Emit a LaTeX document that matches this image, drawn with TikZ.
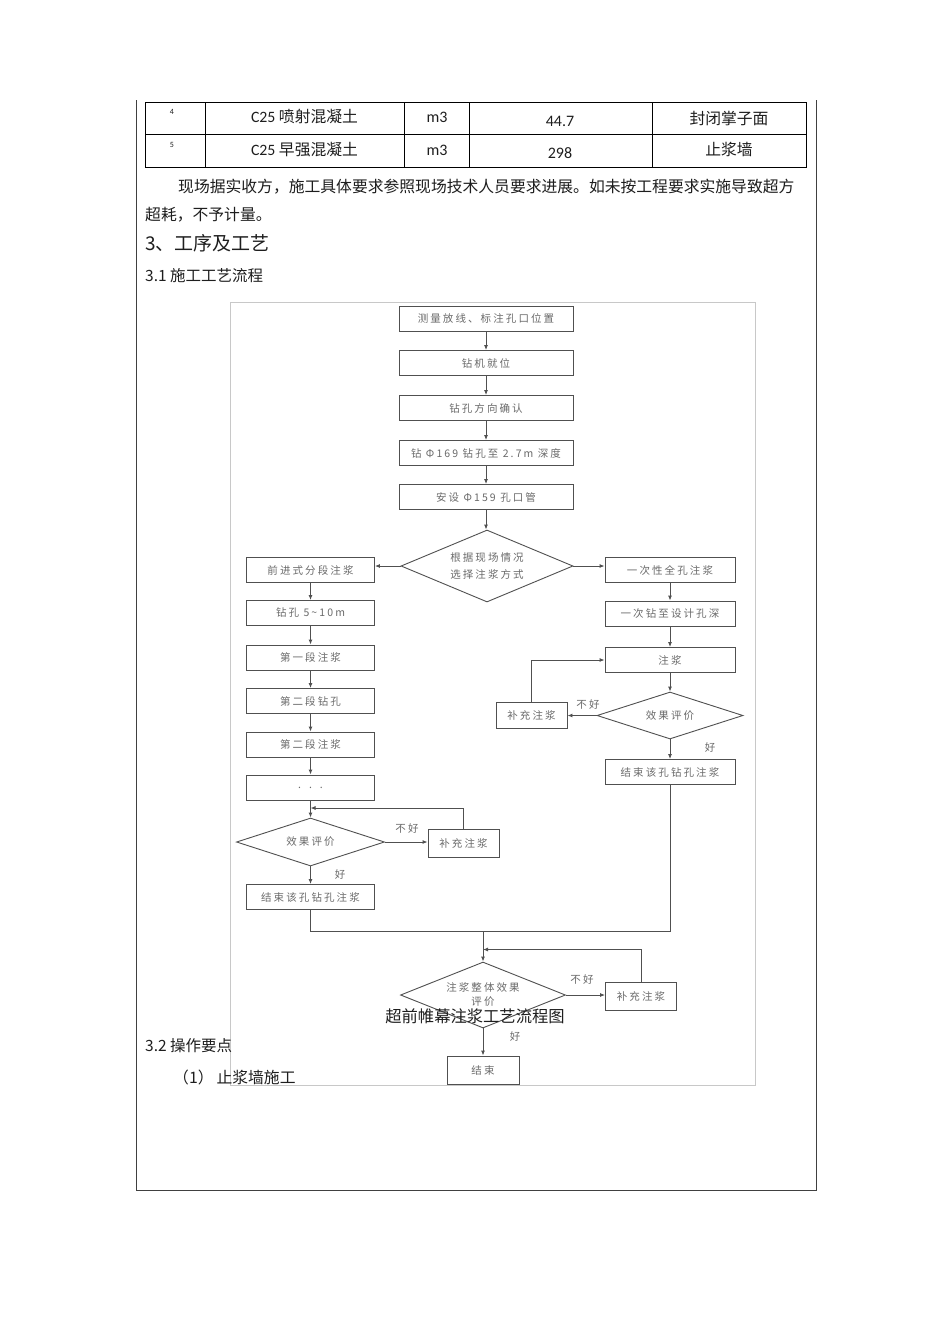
\documentclass[tikz,border=0pt]{standalone}
\usepackage{fontspec}
\usepackage{tikz}
\usetikzlibrary{shapes,shapes.geometric,arrows,arrows.meta,positioning}
\setmainfont{Noto Sans CJK SC}
\newfontfamily\latin{Carlito}
\newfontfamily\flujofont[LetterSpace=20]{Noto Sans CJK SC}
\newcommand{\flujo}{\flujofont\fontsize{10.5}{14}\selectfont}
\newcommand{\cuerpo}{\fontsize{15.8}{19}\selectfont}
\definecolor{lineagris}{HTML}{505050}
\definecolor{textogris}{HTML}{6A6A6A}
\definecolor{marcogris}{HTML}{C8C8C8}
\definecolor{tinta}{HTML}{1E1E1E}
\tikzstyle{proceso} = [draw=lineagris, line width=0.9pt, rectangle, minimum width=128pt, minimum height=25pt, inner sep=0pt, text=textogris, font=\flujo]
\tikzstyle{decision} = [draw=lineagris, line width=0.9pt, diamond, aspect=2.5, inner sep=0pt, text=textogris, font=\flujo, align=center]
\tikzstyle{etiqueta} = [text=textogris, font=\flujo, inner sep=0pt]
\tikzstyle{flecha} = [draw=lineagris, line width=0.9pt, -{Latex[length=5pt,width=4pt]}]
\tikzstyle{linea} = [draw=lineagris, line width=0.9pt]
\tikzstyle{tabla} = [draw=black, line width=1pt]
\tikzstyle{texto} = [text=tinta, font=\cuerpo, inner sep=0pt]
\begin{document}
\begin{tikzpicture}[x=1pt,y=-1pt]
					\useasboundingbox (0,0) rectangle (950,1344);
					\fill[white] (0,0) rectangle (950,1344);
					\draw[draw=black!75, line width=1pt] (136,100) -- (136,1190) -- (816,1190) -- (816,100);
					\draw[tabla] (145,102) rectangle (806,167);
					\draw[tabla] (145,134) -- (806,134);
					\foreach \x in {205,404,469,652} \draw[tabla] (\x,102) -- (\x,167);
					\node[texto, font=\latin\fontsize{8}{9}\selectfont] (n4) at (172,112) {4};
					\node[texto] (m4) at (304.5,117) {{\latin C25} 喷射混凝土};
					\node[texto, font=\latin\fontsize{16}{19}\selectfont] (u4) at (437,117) {m3};
					\node[texto, font=\latin\fontsize{16}{19}\selectfont] (c4) at (560,121) {44.7};
					\node[texto] (o4) at (729,119) {封闭掌子面};
					\node[texto, font=\latin\fontsize{8}{9}\selectfont] (n5) at (172,145) {5};
					\node[texto] (m5) at (304.5,150) {{\latin C25} 早强混凝土};
					\node[texto, font=\latin\fontsize{16}{19}\selectfont] (u5) at (437,150) {m3};
					\node[texto, font=\latin\fontsize{16}{19}\selectfont] (c5) at (560,153) {298};
					\node[texto] (o5) at (729,149) {止浆墙};
					\node[texto, anchor=west] (par1) at (178,187) {现场据实收方，施工具体要求参照现场技术人员要求进展。如未按工程要求实施导致超方};
					\node[texto, anchor=west] (par2) at (145,215) {超耗，不予计量。};
					\node[texto, anchor=west, font=\fontsize{19}{23}\selectfont] (tit3) at (145,243) {3、工序及工艺};
					\node[texto, anchor=west, font=\fontsize{15.5}{19}\selectfont] (tit31) at (145,276) {3.1 施工工艺流程};
					\draw[draw=marcogris, line width=1pt] (230,302) rectangle (755,1085);
					\node[proceso, minimum width=174pt] (p1) at (486,318.5) {测量放线、标注孔口位置};
					\node[proceso, minimum width=174pt] (p2) at (486,363) {钻机就位};
					\node[proceso, minimum width=174pt] (p3) at (486,408) {钻孔方向确认};
					\node[proceso, minimum width=174pt] (p4) at (486,453) {钻 Φ169 钻孔至 2.7m 深度};
					\node[proceso, minimum width=174pt] (p5) at (486,497) {安设 Φ159 孔口管};
					\node[decision, minimum width=172pt, minimum height=72pt] (d1) at (487,566) {根据现场情况\\[3pt]选择注浆方式};
					\node[proceso] (l1) at (310.5,570) {前进式分段注浆};
					\node[proceso] (l2) at (310.5,613) {钻孔 5\textasciitilde10m};
					\node[proceso] (l3) at (310.5,657.5) {第一段注浆};
					\node[proceso] (l4) at (310.5,701) {第二段钻孔};
					\node[proceso] (l5) at (310.5,744.5) {第二段注浆};
					\node[proceso] (l6) at (310.5,787.5) {.\hspace{8pt}.\hspace{8pt}.};
					\node[decision, minimum width=148pt, minimum height=48pt] (ld) at (310.5,842) {效果评价};
					\node[proceso, minimum width=71pt, minimum height=28pt] (lsup) at (463.5,843) {补充注浆};
					\node[proceso] (l7) at (310.5,897) {结束该孔钻孔注浆};
					\node[proceso, minimum width=130pt] (r1) at (670,570) {一次性全孔注浆};
					\node[proceso, minimum width=130pt] (r2) at (670,613.5) {一次钻至设计孔深};
					\node[proceso, minimum width=130pt] (r3) at (670,660) {注浆};
					\node[decision, minimum width=146pt, minimum height=47pt] (rd) at (670,715.5) {效果评价};
					\node[proceso, minimum width=71pt, minimum height=26pt] (rsup) at (531.5,715.5) {补充注浆};
					\node[proceso, minimum width=130pt] (r4) at (670,772) {结束该孔钻孔注浆};
					\node[decision, minimum width=165pt, minimum height=66pt] (bd) at (483,995) {注浆整体效果\\评价};
					\node[proceso, minimum width=71pt, minimum height=28pt] (bsup) at (641,996) {补充注浆};
					\node[proceso, minimum width=72pt, minimum height=28pt] (fin) at (483,1070) {结束};
					\node[etiqueta] (lmal) at (407,829) {不好};
					\node[etiqueta] (lbien) at (340,875) {好};
					\node[etiqueta] (rmal) at (588,705) {不好};
					\node[etiqueta] (rbien) at (710,748) {好};
					\node[etiqueta] (bmal) at (582,980) {不好};
					\node[etiqueta] (bbien) at (515,1037) {好};
					\coordinate (lvuelta) at (310.5,808);
					\coordinate (union) at (483,931);
					\coordinate (bvuelta) at (483,949.5);
					\draw[flecha] (p1) -- (p2);
					\draw[flecha] (p2) -- (p3);
					\draw[flecha] (p3) -- (p4);
					\draw[flecha] (p4) -- (p5);
					\draw[flecha] (p5.south) -- (p5.south |- d1.north);
					\draw[flecha] (d1.west) -- (d1.west -| l1.east);
					\draw[flecha] (d1.east) -- (d1.east -| r1.west);
					\foreach \a/\b in {l1/l2,l2/l3,l3/l4,l4/l5,l5/l6,l6/ld,ld/l7,r1/r2,r2/r3,r3/rd,rd/r4,bd/fin}
						\draw[flecha] (\a) -- (\b);
					\draw[flecha] (ld.east) -- (ld.east -| lsup.west);
					\draw[flecha] (lsup.north) |- (lvuelta);
					\draw[flecha] (rd.west) -- (rd.west -| rsup.east);
					\draw[flecha] (rsup.north) |- (r3.west);
					\draw[linea] (l7.south) |- (union) -| (r4.south);
					\draw[flecha] (union) -- (bd.north);
					\draw[flecha] (bsup.north) |- (bvuelta);
					\draw[flecha] (bd.east) -- (bd.east -| bsup.west);
					\node[texto, font=\fontsize{16.3}{19}\selectfont] (titulo) at (475,1016) {超前帷幕注浆工艺流程图};
					\node[texto, anchor=west, font=\fontsize{15.5}{19}\selectfont] (tit32) at (145,1046) {3.2 操作要点};
					\node[texto, anchor=west] (punto1) at (173,1077) {（1）\hspace{3pt}止浆墙施工};
\end{tikzpicture}
\end{document}
